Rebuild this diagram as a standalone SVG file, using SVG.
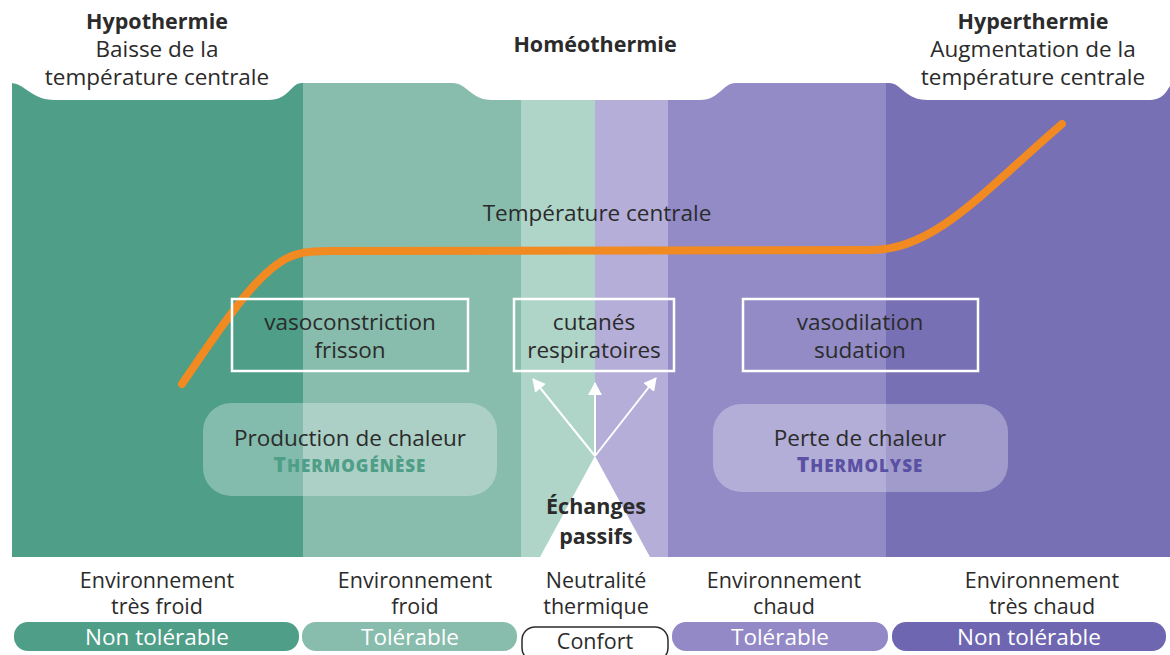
<svg xmlns="http://www.w3.org/2000/svg" width="1170" height="655" viewBox="0 0 1170 655">
<style>
text{font-family:"Open Sans","Noto Sans","Liberation Sans",sans-serif;fill:#2b2b2b;text-anchor:middle;font-size:22.5px}
.b{font-weight:bold;font-size:21.5px}
.w{fill:#ffffff}
.lab{font-size:21.5px}
.frame{fill:none;stroke:#ffffff;stroke-width:2.5}
.soft{fill:#ffffff;fill-opacity:0.3}
.sc{font-weight:800;letter-spacing:1px}
</style>
<defs>
<marker id="ah" markerWidth="14" markerHeight="14" refX="12" refY="7" orient="auto" markerUnits="userSpaceOnUse">
<path d="M0,0 L13,7 L0,14 Z" fill="#ffffff"/>
</marker>
</defs>
<rect x="0" y="0" width="1170" height="655" fill="#ffffff"/>
<g id="bands">
<rect x="12" y="83" width="291" height="474" fill="#4e9e88"/>
<rect x="303" y="83" width="218" height="474" fill="#88bcac"/>
<rect x="521" y="83" width="74" height="474" fill="#afd4c8"/>
<rect x="595" y="83" width="73" height="474" fill="#b4aed9"/>
<rect x="668" y="83" width="218" height="474" fill="#928bc6"/>
<rect x="886" y="83" width="284" height="474" fill="#7870b4"/>
</g>
<g id="tabs" fill="#ffffff">
<path d="M10,83 C26,83 30,100 55,100 L268,100 C290,100 290,83 302,83 Z"/>
<path d="M452,83 C468,83 470,100 492,100 L700,100 C720,100 722,83 736,83 Z"/>
<path d="M889,83 C902,83 904,100 928,100 L1148,100 C1163,100 1166,92 1170,86 L1170,83 Z"/>
</g>
<g id="hypothermie">
<text x="157" y="29" class="b">Hypothermie</text>
<text x="157" y="57">Baisse de la</text>
<text x="157" y="85">température centrale</text>
</g>
<g id="homeothermie">
<text x="595" y="52" class="b">Homéothermie</text>
</g>
<g id="hyperthermie">
<text x="1033" y="29" class="b">Hyperthermie</text>
<text x="1033" y="57">Augmentation de la</text>
<text x="1033" y="85">température centrale</text>
</g>
<g id="temperature-centrale">
<path d="M182,384 C222,326 262,262 298,254 C308,251 318,251 330,251 L872,250 C935,250 985,190 1062,124" fill="none" stroke="#f28a22" stroke-width="8" stroke-linecap="round"/>
<text x="597" y="221">Température centrale</text>
</g>
<g id="box-vasoconstriction">
<rect x="232" y="299" width="236" height="72" class="frame"/>
<text x="350" y="330">vasoconstriction</text>
<text x="350" y="358">frisson</text>
</g>
<g id="box-cutanes">
<rect x="514" y="299" width="160" height="72" class="frame"/>
<text x="594" y="330">cutanés</text>
<text x="594" y="358">respiratoires</text>
</g>
<g id="box-vasodilation">
<rect x="743" y="299" width="235" height="72" class="frame"/>
<text x="860" y="330">vasodilation</text>
<text x="860" y="358">sudation</text>
</g>
<g id="thermogenese">
<rect x="203" y="403" width="294" height="93" rx="28" class="soft"/>
<text x="350" y="446">Production de chaleur</text>
<text x="350" y="472" class="sc" style="fill:#4e9e88"><tspan font-size="21">T</tspan><tspan font-size="17">HERMOGÉNÈSE</tspan></text>
</g>
<g id="thermolyse">
<rect x="713" y="404" width="295" height="88" rx="28" class="soft"/>
<text x="860" y="446">Perte de chaleur</text>
<text x="860" y="472" class="sc" style="fill:#5a51a4"><tspan font-size="21">T</tspan><tspan font-size="17">HERMOLYSE</tspan></text>
</g>
<g id="echanges-passifs">
<path d="M595,456 L650,557 L540,557 Z" fill="#ffffff"/>
<text x="596" y="514" class="b">Échanges</text>
<text x="596" y="544" class="b">passifs</text>
</g>
<g id="connectors" stroke="#ffffff" stroke-width="2" fill="none">
<line x1="595" y1="456" x2="533" y2="379" marker-end="url(#ah)"/>
<line x1="595" y1="456" x2="595" y2="383" marker-end="url(#ah)"/>
<line x1="595" y1="456" x2="656" y2="378" marker-end="url(#ah)"/>
</g>
<g id="env-tres-froid">
<text x="157" y="588" class="lab">Environnement</text>
<text x="157" y="614" class="lab">très froid</text>
<rect x="14" y="622" width="285" height="29" rx="14" fill="#4e9e88"/>
<text x="157" y="645" class="w">Non tolérable</text>
</g>
<g id="env-froid">
<text x="415" y="588" class="lab">Environnement</text>
<text x="415" y="614" class="lab">froid</text>
<rect x="302" y="622" width="215" height="29" rx="14" fill="#88bcac"/>
<text x="410" y="645" class="w">Tolérable</text>
</g>
<g id="neutralite">
<text x="596" y="588" class="lab">Neutralité</text>
<text x="596" y="614" class="lab">thermique</text>
<rect x="522" y="627" width="146" height="34" rx="13" fill="#ffffff" stroke="#2b2b2b" stroke-width="1.5"/>
<text x="595" y="649" class="lab">Confort</text>
</g>
<g id="env-chaud">
<text x="784" y="588" class="lab">Environnement</text>
<text x="784" y="614" class="lab">chaud</text>
<rect x="672" y="622" width="216" height="29" rx="14" fill="#9289c6"/>
<text x="780" y="645" class="w">Tolérable</text>
</g>
<g id="env-tres-chaud">
<text x="1042" y="588" class="lab">Environnement</text>
<text x="1042" y="614" class="lab">très chaud</text>
<rect x="892" y="622" width="274" height="29" rx="14" fill="#6e66b0"/>
<text x="1029" y="645" class="w">Non tolérable</text>
</g>
</svg>
